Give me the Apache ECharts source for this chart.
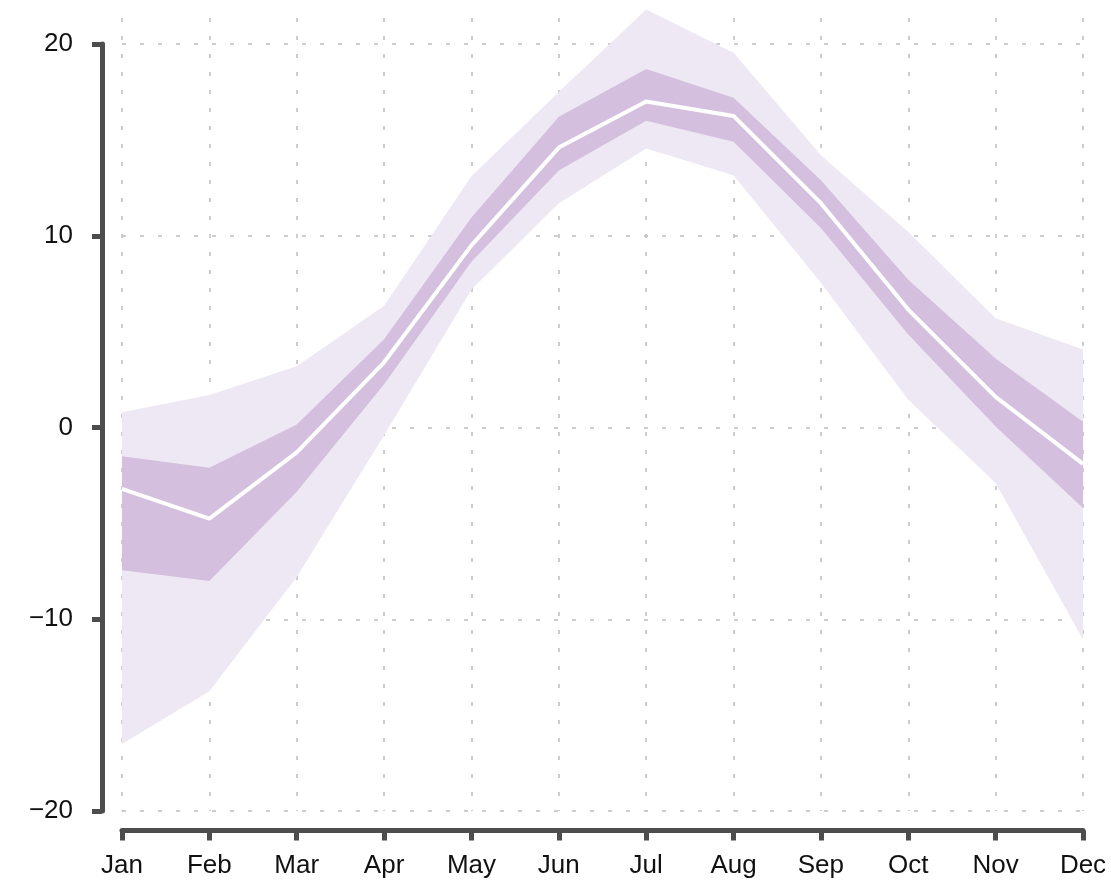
<!DOCTYPE html>
<html>
<head>
<meta charset="utf-8">
<script src="https://cdn.jsdelivr.net/npm/echarts@6/dist/echarts.min.js"></script>
<style>html,body{margin:0;padding:0;background:#fff}#c{width:1111px;height:881px}</style>
</head>
<body>
<div id="c"></div>
<script>
const months = ['Jan','Feb','Mar','Apr','May','Jun','Jul','Aug','Sep','Oct','Nov','Dec'];
const median   = [-3.2, -4.75, -1.3, 3.4, 9.5, 14.6, 17.0, 16.25, 11.7, 6.15, 1.6, -1.9];
const innerLow = [-7.45, -8.0, -3.35, 2.25, 8.65, 13.4, 16.0, 14.9, 10.4, 4.85, 0.05, -4.2];
const innerHigh= [-1.5, -2.1, 0.15, 4.6, 10.95, 16.2, 18.7, 17.2, 12.9, 7.7, 3.6, 0.3];
const outerLow = [-16.5, -13.75, -7.8, -0.4, 7.2, 11.7, 14.55, 13.15, 7.55, 1.45, -2.9, -11.05];
const outerHigh= [0.8, 1.7, 3.2, 6.35, 13.1, 17.5, 21.8, 19.55, 14.2, 10.2, 5.7, 4.07];
const yTicks = [-20, -10, 0, 10, 20];

const diff = (a, b) => a.map((v, i) => +(v - b[i]).toFixed(3));
const font = 'Liberation Sans';
const axisColor = '#4d4d4d';
const gridLine = { show: true, lineStyle: { color: '#bdbdbd', width: 1.5, type: [4, 14] } };

const chart = echarts.init(document.getElementById('c'));
chart.setOption({
  animation: false,
  backgroundColor: '#fff',
  grid: [
    { left: 122, right: 28, top: 18, bottom: 70 },
    { left: 122, right: 28, top: 44, bottom: 70 }
  ],
  xAxis: [
    { type: 'category', gridIndex: 0, data: months, boundaryGap: false,
      axisLine: { show: false, onZero: false }, axisTick: { show: false }, axisLabel: { show: false },
      splitLine: gridLine },
    { type: 'category', gridIndex: 1, data: months, boundaryGap: false, offset: 19.5,
      axisLine: { show: true, onZero: false, lineStyle: { color: axisColor, width: 5 } },
      axisTick: { show: true, length: 10, lineStyle: { color: axisColor, width: 5 } },
      axisLabel: { show: true, color: '#111', fontFamily: font, fontSize: 26, margin: 22 },
      splitLine: { show: false } }
  ],
  yAxis: [
    { type: 'value', gridIndex: 0, min: -20, max: 21.356, interval: 10,
      axisLine: { show: false }, axisTick: { show: false }, axisLabel: { show: false },
      splitLine: { show: false } },
    { type: 'value', gridIndex: 1, min: yTicks[0], max: yTicks[yTicks.length - 1], interval: 10, offset: 20,
      axisLine: { show: true, onZero: false, lineStyle: { color: axisColor, width: 5 } },
      axisTick: { show: true, length: 10, lineStyle: { color: axisColor, width: 5 } },
      axisLabel: { show: true, color: '#111', fontFamily: font, fontSize: 26, margin: 29,
        formatter: v => (v < 0 ? '\u2212' + Math.abs(v) : String(v)) },
      splitLine: gridLine }
  ],
  series: [
    { type: 'line', xAxisIndex: 0, yAxisIndex: 0, stack: 'outer', stackStrategy: 'all',
      data: outerLow, symbol: 'none', lineStyle: { opacity: 0 }, clip: false, silent: true },
    { type: 'line', xAxisIndex: 0, yAxisIndex: 0, stack: 'outer', stackStrategy: 'all',
      data: diff(outerHigh, outerLow), symbol: 'none', lineStyle: { opacity: 0 },
      areaStyle: { color: '#eee8f4', opacity: 1 }, clip: false, silent: true },
    { type: 'line', xAxisIndex: 0, yAxisIndex: 0, stack: 'inner', stackStrategy: 'all',
      data: innerLow, symbol: 'none', lineStyle: { opacity: 0 }, clip: false, silent: true },
    { type: 'line', xAxisIndex: 0, yAxisIndex: 0, stack: 'inner', stackStrategy: 'all',
      data: diff(innerHigh, innerLow), symbol: 'none', lineStyle: { opacity: 0 },
      areaStyle: { color: '#d4c0de', opacity: 1 }, clip: false, silent: true },
    { type: 'line', xAxisIndex: 0, yAxisIndex: 0, data: median, symbol: 'none',
      lineStyle: { color: '#ffffff', width: 4 }, clip: false, silent: true }
  ]
});
</script>
</body>
</html>
